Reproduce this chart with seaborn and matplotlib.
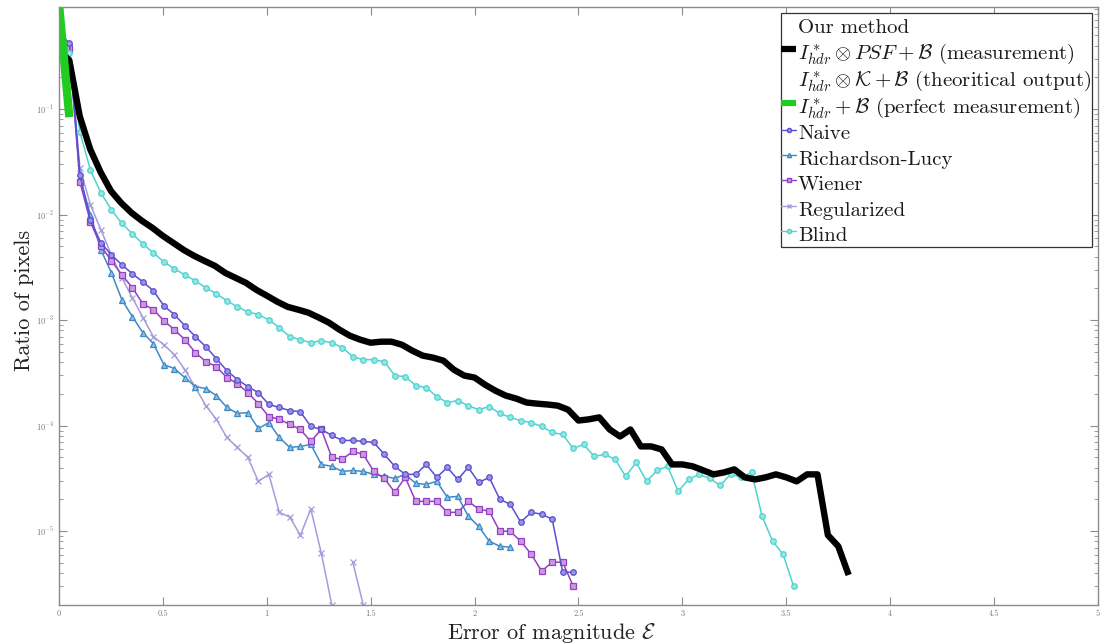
import numpy as np
import pandas as pd
import matplotlib
matplotlib.use("Agg")
import matplotlib.pyplot as plt
from matplotlib.lines import Line2D
import seaborn as sns

# ---------------- data ----------------
black_step = 0.05
black_vals = [0.361, 0.290, 0.0859, 0.0419, 0.0254, 0.0168, 0.0129, 0.0104, 0.00873, 0.00750,
              0.00630, 0.00541, 0.00464, 0.00408, 0.00365, 0.00328, 0.00281, 0.00252, 0.00226, 0.00194,
              0.00171, 0.00150, 0.00134, 0.00126, 0.00118, 0.00106, 0.000946, 0.000813, 0.000713, 0.000654,
              0.000612, 0.000626, 0.000626, 0.000586, 0.000515, 0.000462, 0.000442, 0.000414, 0.000340, 0.000299,
              0.000286, 0.000245, 0.000215, 0.000193, 0.000181, 0.000166, 0.000162, 0.000159, 0.000155, 0.000142,
              0.000112, 0.000115, 0.000120, 9.22e-5, 7.91e-5, 9.22e-5, 6.37e-5, 6.37e-5, 5.96e-5, 4.30e-5,
              4.30e-5, 4.12e-5, 3.78e-5, 3.46e-5, 3.61e-5, 3.86e-5, 3.24e-5, 3.10e-5, 3.24e-5, 3.46e-5,
              3.24e-5, 2.97e-5, 3.46e-5, 3.46e-5, 9.2e-6, 7.2e-6, 3.85e-6]

green_x = [0.0, 0.05]
green_vals = [1.0, 0.084]

method_step = 0.0505
naive_vals = [0.535, 0.421, 0.0238, 0.00891, 0.00541, 0.00416, 0.00335, 0.00275, 0.00231, 0.00190,
              0.00137, 0.00113, 0.000887, 0.000698, 0.000561, 0.000432, 0.000333, 0.000274, 0.000235, 0.000206,
              0.000159, 0.000149, 0.000139, 0.000136, 9.84e-5, 9.22e-5, 8.09e-5, 7.26e-5, 7.26e-5, 7.10e-5,
              6.95e-5, 5.35e-5, 4.12e-5, 3.46e-5, 3.46e-5, 4.30e-5, 3.24e-5, 4.03e-5, 3.10e-5, 4.03e-5,
              2.90e-5, 3.24e-5, 2.01e-5, 1.80e-5, 1.22e-5, 1.51e-5, 1.45e-5, 1.30e-5, 4.09e-6, 4.09e-6]

rl_vals = [0.403, 0.361, 0.0223, 0.00996, 0.00464, 0.00281, 0.00156, 0.00108, 0.000762, 0.000600,
           0.000379, 0.000348, 0.000286, 0.000235, 0.000225, 0.000193, 0.000149, 0.000131, 0.000133, 9.42e-5,
           0.000107, 7.74e-5, 6.22e-5, 6.37e-5, 6.65e-5, 4.30e-5, 4.12e-5, 3.69e-5, 3.77e-5, 3.69e-5,
           3.46e-5, 3.31e-5, 3.17e-5, 3.46e-5, 2.84e-5, 2.78e-5, 2.97e-5, 2.10e-5, 2.14e-5, 1.39e-5,
           1.11e-5, 8.04e-6, 7.21e-6, 7.06e-6]

wiener_vals = [0.449, 0.378, 0.0204, 0.00853, 0.00506, 0.00365, 0.00269, 0.00203, 0.00143, 0.00126,
               0.000989, 0.000813, 0.000654, 0.000493, 0.000405, 0.000363, 0.000286, 0.000251, 0.000206, 0.000162,
               0.000122, 0.000115, 0.000103, 9.22e-5, 7.10e-5, 9.22e-5, 5.01e-5, 4.80e-5, 5.71e-5, 5.35e-5,
               3.69e-5, 3.17e-5, 2.34e-5, 3.24e-5, 1.92e-5, 1.92e-5, 1.92e-5, 1.51e-5, 1.51e-5, 1.92e-5,
               1.62e-5, 1.55e-5, 1.00e-5, 1.00e-5, 8.04e-6, 6.06e-6, 4.19e-6, 5.09e-6, 5.09e-6, 3.02e-6]

# Regularized has a gap (empty bin) -> two segments
reg_vals_a = [0.449, 0.361, 0.0277, 0.0124, 0.00718, 0.00416, 0.00252, 0.00163, 0.00106, 0.000698,
              0.000586, 0.000472, 0.000340, 0.000230, 0.000155, 0.000115, 7.74e-5, 6.22e-5, 5.01e-5, 2.97e-5,
              3.46e-5, 1.51e-5, 1.36e-5, 9.16e-6, 1.62e-5, 6.19e-6, 2.0e-6]
reg_start_b = 28
reg_vals_b = [5.09e-6, 2.0e-6]

blind_vals = [0.36, 0.339, 0.0606, 0.0265, 0.0161, 0.0111, 0.00826, 0.00658, 0.00529, 0.00435,
              0.00357, 0.00307, 0.00269, 0.00236, 0.00203, 0.00178, 0.00153, 0.00134, 0.00120, 0.00113,
              0.00101, 0.000849, 0.000698, 0.000654, 0.000612, 0.000640, 0.000612, 0.000550, 0.000452, 0.000423,
              0.000423, 0.000405, 0.000299, 0.000292, 0.000240, 0.000230, 0.000189, 0.000166, 0.000173, 0.000155,
              0.000142, 0.000152, 0.000131, 0.000120, 0.000112, 0.000107, 9.84e-5, 8.63e-5, 8.26e-5, 6.09e-5,
              6.65e-5, 5.12e-5, 5.35e-5, 4.80e-5, 3.31e-5, 4.49e-5, 2.97e-5, 3.77e-5, 4.12e-5, 2.39e-5,
              3.10e-5, 3.46e-5, 3.17e-5, 2.72e-5, 3.46e-5, 3.24e-5, 3.61e-5, 1.39e-5, 8.04e-6, 6.06e-6,
              3.02e-6]

legend_labels = [
    "Our method",
    r"$I^*_{hdr}\otimes PSF+\mathcal{B}$ (measurement)",
    r"$I^*_{hdr}\otimes\mathcal{K}+\mathcal{B}$ (theoritical output)",
    r"$I^*_{hdr}+\mathcal{B}$ (perfect measurement)",
    "Naive", "Richardson-Lucy", "Wiener", "Regularized", "Blind",
]

x_ticks = [0, 0.5, 1, 1.5, 2, 2.5, 3, 3.5, 4, 4.5, 5]
x_ticklabels = ["0", "0.5", "1", "1.5", "2", "2.5", "3", "3.5", "4", "4.5", "5"]

# ---------------- style ----------------
sns.set_style("ticks")
plt.rcParams["font.family"] = ["cmr10", "DejaVu Serif"]
plt.rcParams["mathtext.fontset"] = "cm"
plt.rcParams["axes.formatter.use_mathtext"] = True

C_BLACK = "#000000"
C_GREEN = "#1fcc1f"
C_NAIVE = "#5a4fcf"
C_RL = "#3d8ac6"
C_WIENER = "#9440c4"
C_REG = "#a59cdb"
C_BLIND = "#4fd3d0"

fig = plt.figure(figsize=(11.06, 6.43), dpi=100)
ax = fig.add_axes([0.0533, 0.0591, 0.9395, 0.930])


def mx(vals, start=0):
    return [round((start + i) * method_step, 4) for i in range(len(vals))]


def draw(xv, yv, **kw):
    df = pd.DataFrame({"x": xv, "y": yv})
    sns.lineplot(data=df, x="x", y="y", ax=ax, estimator=None, sort=False, legend=False, **kw)


ax.set_yscale("log")

line_kw = dict(linewidth=1.1, markersize=4, markeredgewidth=0.9)
draw(mx(reg_vals_a), reg_vals_a, color=C_REG, marker="x", markeredgecolor=C_REG, **line_kw)
draw(mx(reg_vals_b, reg_start_b), reg_vals_b, color=C_REG, marker="x", markeredgecolor=C_REG, **line_kw)
draw(mx(rl_vals), rl_vals, color=C_RL, marker="^", markerfacecolor="#8cc0e6", markeredgecolor=C_RL, **line_kw)
draw(mx(wiener_vals), wiener_vals, color=C_WIENER, marker="s", markerfacecolor="#c89be0", markeredgecolor=C_WIENER, **line_kw)
draw(mx(naive_vals), naive_vals, color=C_NAIVE, marker="o", markerfacecolor="#9a92e2", markeredgecolor=C_NAIVE, **line_kw)
draw(mx(blind_vals), blind_vals, color=C_BLIND, marker="o", markerfacecolor="#93e6e4", markeredgecolor=C_BLIND, **line_kw)
draw([round(i * black_step, 3) for i in range(len(black_vals))], black_vals, color=C_BLACK, linewidth=4.6)
draw(green_x, green_vals, color=C_GREEN, linewidth=6.0)
for l in ax.lines[-2:]:
    l.set_solid_capstyle("butt")
    l.set_solid_joinstyle("round")

ax.set_xlim(0, 5)
ax.set_ylim(2.0e-6, 0.93)
ax.set_xticks(x_ticks)
ax.set_xticklabels(x_ticklabels)

for sp in ax.spines.values():
    sp.set_color("#8c8c8c")
    sp.set_linewidth(1.0)
ax.tick_params(axis="both", which="both", direction="in", top=True, right=True,
               colors="#8c8c8c", labelcolor="#7a7a7a", labelsize=6)
ax.tick_params(axis="both", which="major", length=6)
ax.tick_params(axis="y", which="minor", length=3)

ax.set_xlabel(r"Error of magnitude $\mathcal{E}$", fontsize=16, color="#222222")
ax.xaxis.set_label_coords(0.474, -0.026)
ax.set_ylabel("Ratio of pixels", fontsize=16, color="#222222")
ax.yaxis.set_label_coords(-0.024, 0.51)

handles = [
    Line2D([], [], linestyle="none"),
    Line2D([], [], color=C_BLACK, linewidth=4.5, solid_capstyle="butt"),
    Line2D([], [], linestyle="none"),
    Line2D([], [], color=C_GREEN, linewidth=4.5, solid_capstyle="butt"),
    Line2D([], [], color=C_NAIVE, marker="o", markersize=3, linewidth=1, markerfacecolor="#9a92e2"),
    Line2D([], [], color=C_RL, marker="^", markersize=3, linewidth=1, markerfacecolor="#8cc0e6"),
    Line2D([], [], color=C_WIENER, marker="s", markersize=3, linewidth=1, markerfacecolor="#c89be0"),
    Line2D([], [], color=C_REG, marker="x", markersize=3, linewidth=1),
    Line2D([], [], color=C_BLIND, marker="o", markersize=3, linewidth=1, markerfacecolor="#93e6e4"),
]
leg = ax.legend(handles, legend_labels, loc="upper right", fontsize=15, frameon=True, fancybox=False,
                handlelength=0.7, handleheight=1.5, handletextpad=0.1, borderpad=0.02,
                labelspacing=0.0, borderaxespad=0.3, edgecolor="#333333", framealpha=1.0)
leg.get_frame().set_linewidth(0.9)
for t in leg.get_texts():
    t.set_color("#1a1a1a")

fig.savefig("out.png", dpi=100)
